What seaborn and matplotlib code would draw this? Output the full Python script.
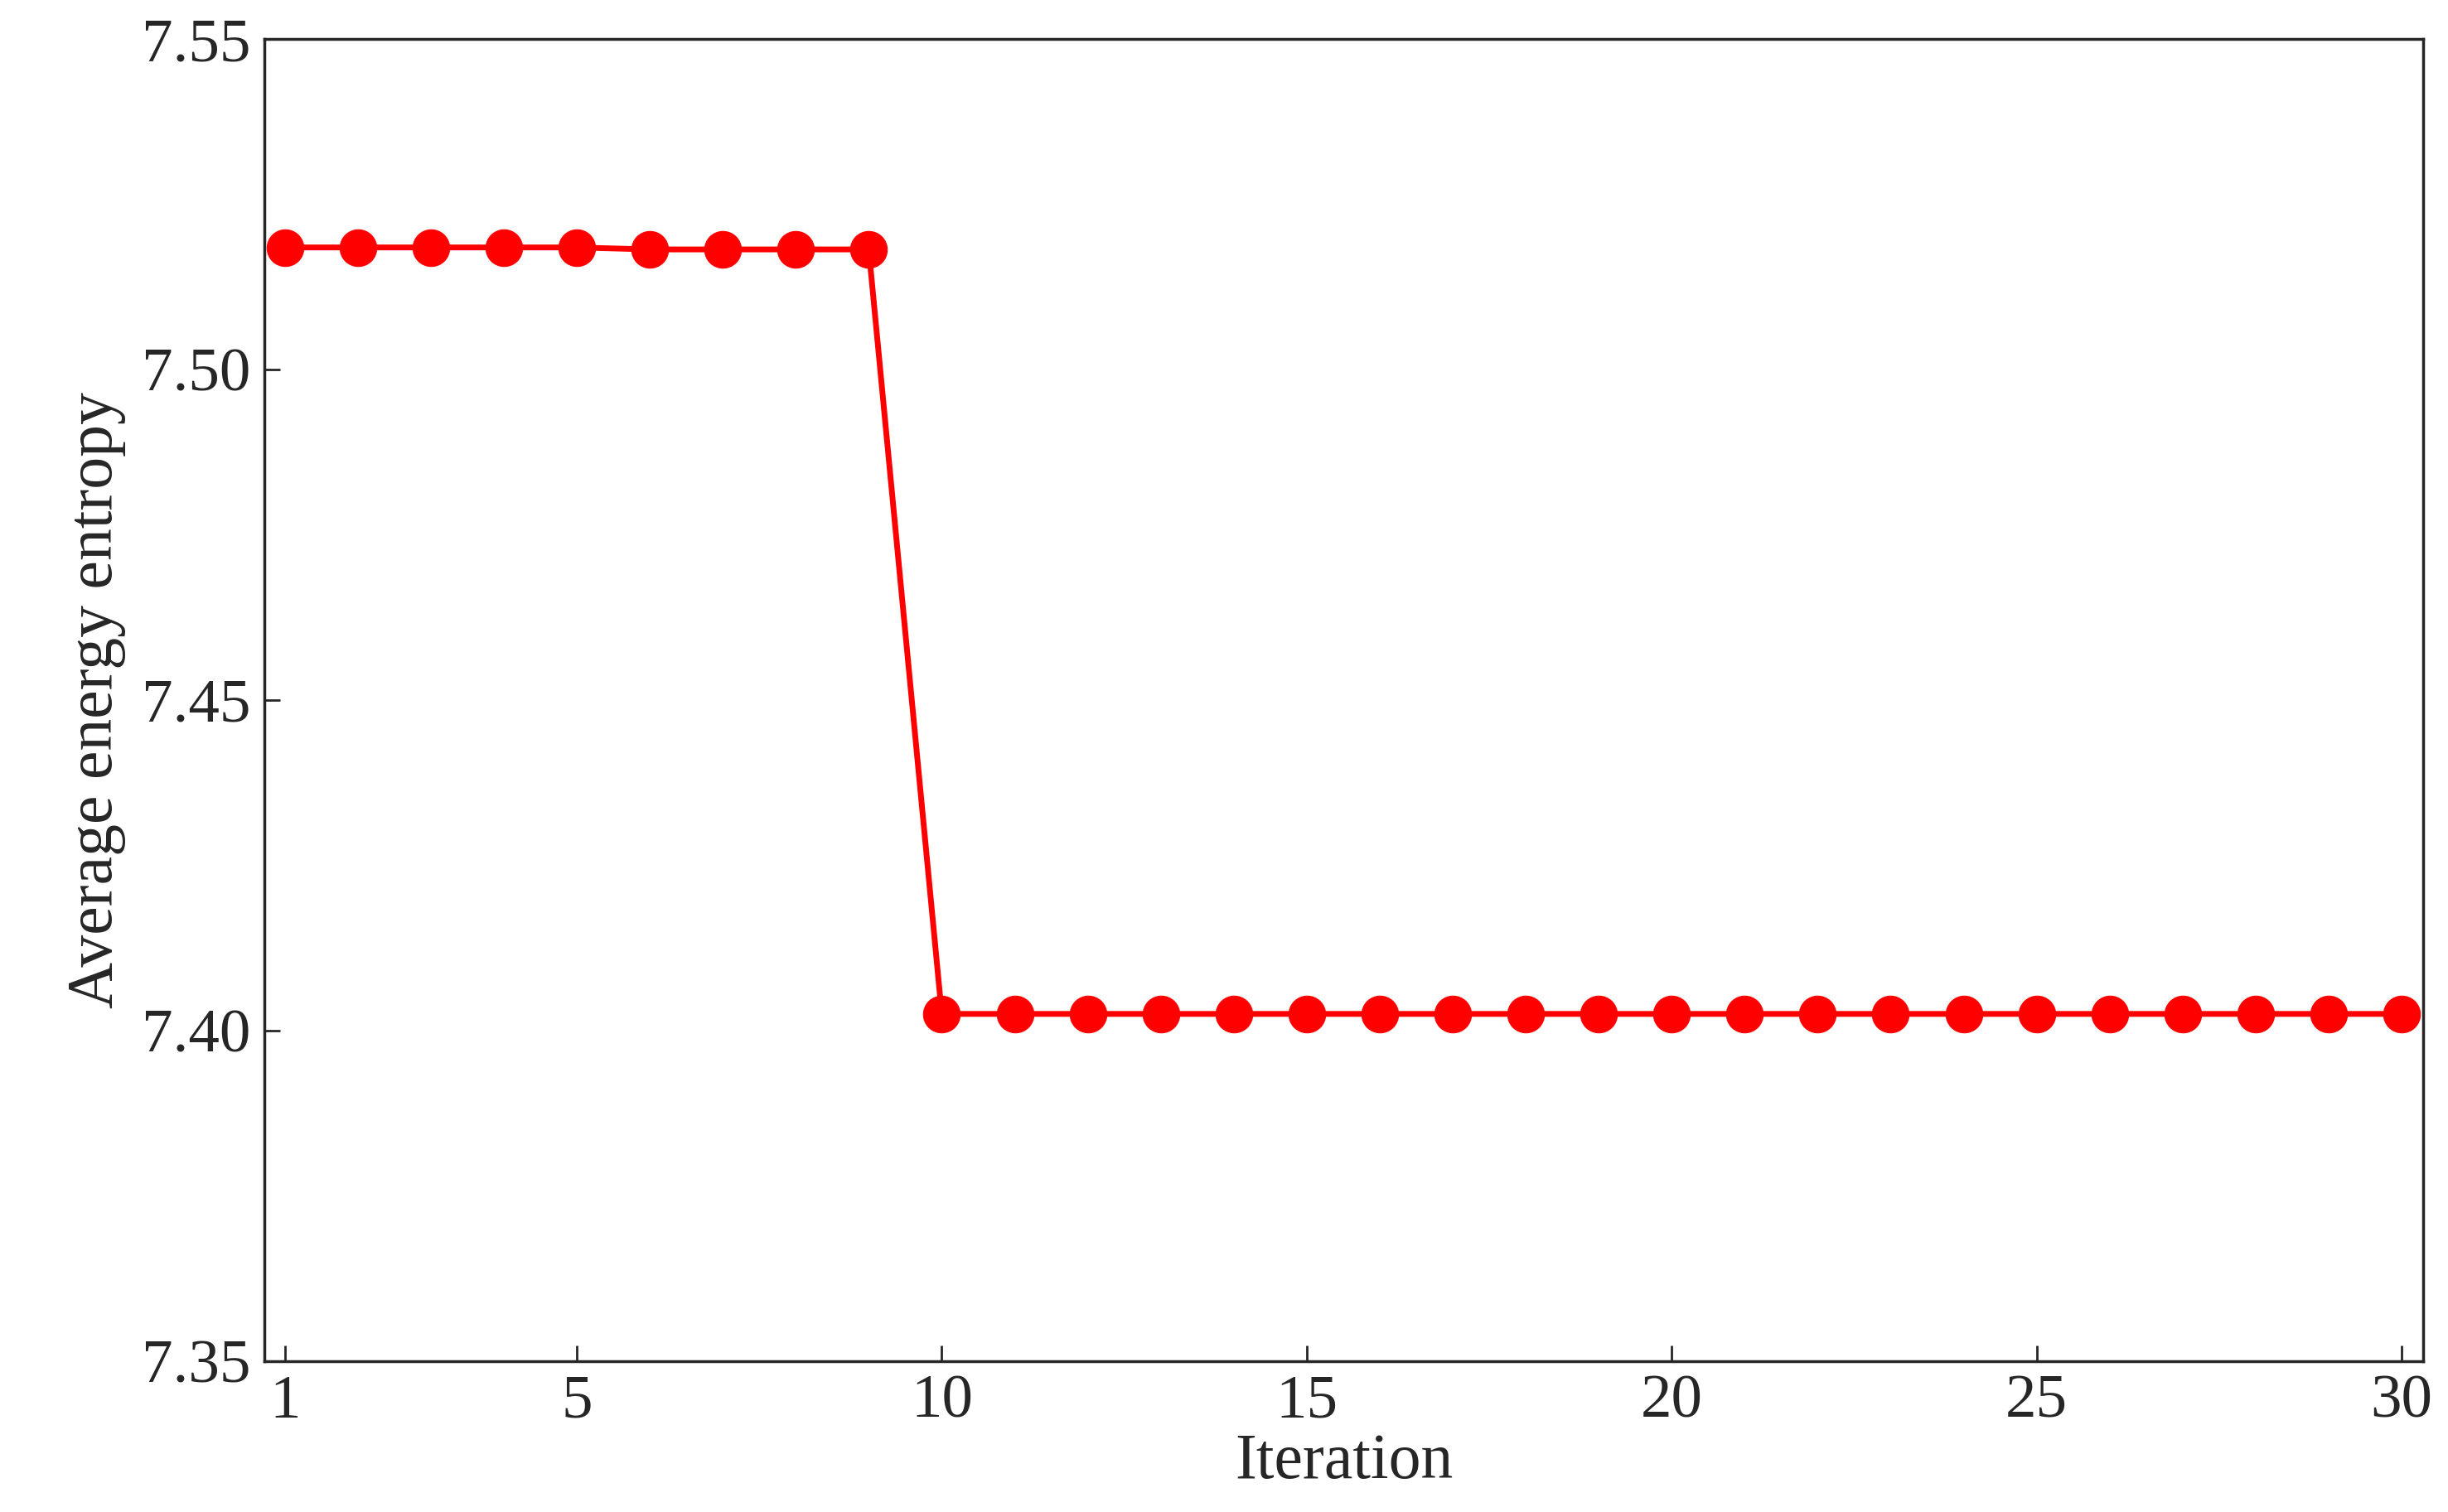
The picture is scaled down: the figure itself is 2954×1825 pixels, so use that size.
import matplotlib
matplotlib.use("Agg")
import matplotlib.pyplot as plt
import seaborn as sns
import pandas as pd

iterations = list(range(1, 31))
entropy = [7.5185, 7.5185, 7.5185, 7.5185, 7.5185, 7.5182, 7.5182, 7.5182, 7.5182] + [7.4025] * 21

df = pd.DataFrame({"Iteration": iterations, "Average energy entropy": entropy})

sns.set_style("ticks")
plt.rcParams['font.family'] = ['Liberation Serif', 'DejaVu Serif']

fig, ax = plt.subplots(figsize=(29.54, 18.25), dpi=100)
sns.lineplot(data=df, x="Iteration", y="Average energy entropy", ax=ax,
             color="red", linewidth=5, marker="o", markersize=32,
             markeredgecolor="red")

ax.set_xlim(0.72, 30.3)
ax.set_ylim(7.35, 7.55)
ax.set_xticks([1, 5, 10, 15, 20, 25, 30])
ax.set_yticks([7.35, 7.40, 7.45, 7.50, 7.55])
ax.set_yticklabels(["7.35", "7.40", "7.45", "7.50", "7.55"])
ax.tick_params(direction="in", length=14, width=2, labelsize=54, pad=12)
ax.set_xlabel("Iteration", fontsize=56, labelpad=2)
ax.set_ylabel("Average energy entropy", fontsize=56, labelpad=14)
for s in ax.spines.values():
    s.set_linewidth(2.5)
    s.set_visible(True)

fig.subplots_adjust(left=0.108, right=0.99, top=0.974, bottom=0.1)
fig.savefig("out.png", dpi=100)
